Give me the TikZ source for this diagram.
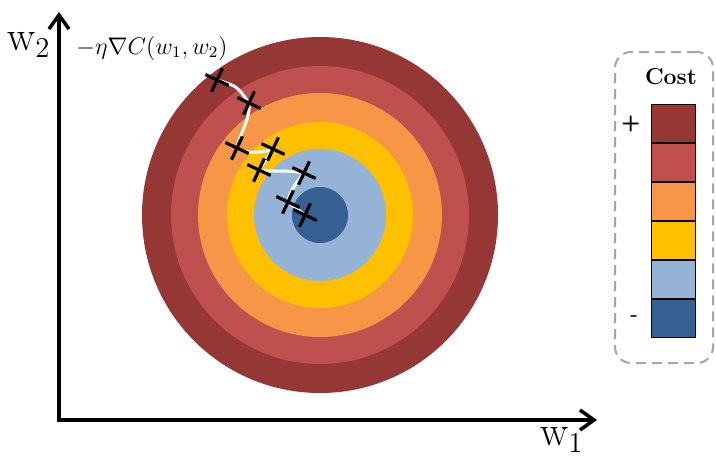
\documentclass[tikz,border=0pt]{standalone}
\usepackage{amsmath,amssymb}
\usepackage{fontspec}
\usepackage{xcolor}
\usepackage{tikz}
\usetikzlibrary{arrows.meta,positioning,shapes.misc}
\definecolor{CostA}{RGB}{149,55,53}
\definecolor{CostB}{RGB}{192,80,77}
\definecolor{CostC}{RGB}{247,150,70}
\definecolor{CostD}{RGB}{255,192,0}
\definecolor{CostE}{RGB}{149,179,215}
\definecolor{CostF}{RGB}{54,96,146}
\tikzset{
  axisline/.style={{Straight Barb[length=7pt,width=10pt]}-{Straight Barb[length=7pt,width=10pt]},
                   line width=1.75pt,black,line join=miter},
  wlab/.style={font=\fontsize{21}{24}\selectfont,inner sep=0pt},
  stepmark/.style={cross out,draw=black,line width=1.6pt,minimum size=7.5pt,
                   inner sep=0pt,rotate=20},
  trail/.style={white,line width=1.5pt},
  swatch/.style={draw=black,line width=0.5pt,minimum width=22pt,minimum height=19pt,
                 inner sep=0pt},
  legendbox/.style={draw=black!35,dashed,dash pattern=on 5pt off 3pt,line width=1pt,
                    rounded corners=8pt,minimum width=49pt,minimum height=155.5pt},
  signlab/.style={font=\sffamily\bfseries\fontsize{11}{13}\selectfont,inner sep=0pt},
}

\begin{document}
\begin{tikzpicture}[x=0.5pt,y=-0.5pt,node distance=0pt]
  \useasboundingbox (0,0) rectangle (716,457);
  % cost contours
  \coordinate (ctr) at (320,215);
  \fill[CostA] (ctr) circle[radius=178];
  \fill[CostB] (ctr) circle[radius=149];
  \fill[CostC] (ctr) circle[radius=122];
  \fill[CostD] (ctr) circle[radius=93];
  \fill[CostE] (ctr) circle[radius=66];
  \fill[CostF] (ctr) circle[radius=28];

  % axes
  \coordinate (orig) at (59,420);
  \coordinate (ytip) at (59,12);
  \coordinate (xtip) at (597,420);
  \draw[axisline] (ytip) -- (orig) -- (xtip);
  \node[wlab] (w2) at (29,45) {w$_2$};
  \node[wlab] (w1) at (562,440) {w$_1$};
  \node[font=\fontsize{11.5}{13}\selectfont] (grad) at (152,48) {$-\eta\nabla C(w_1,w_2)$};

  % descent steps
  \coordinate (p1) at (217,80);
  \coordinate (p2) at (249,103);
  \coordinate (p3) at (237,148);
  \coordinate (p4) at (273,149);
  \coordinate (p5) at (259,170);
  \coordinate (p6) at (304,173);
  \coordinate (p7) at (288,202);
  \coordinate (p8) at (305,215);
  \draw[trail] (p1) .. controls (237,86) .. (p2)
               .. controls (251,118) and (239,135) .. (p3)
               .. controls (245,154) and (263,153) .. (p4)
               -- (p5)
               .. controls (276,172) and (291,170) .. (p6)
               .. controls (296,183) and (289,192) .. (p7)
               -- (p8);
  \node[stepmark] (s1) at (p1) {};
  \node[stepmark] (s2) at (p2) {};
  \node[stepmark] (s3) at (p3) {};
  \node[stepmark] (s4) at (p4) {};
  \node[stepmark] (s5) at (p5) {};
  \node[stepmark] (s6) at (p6) {};
  \node[stepmark] (s7) at (p7) {};
  \node[stepmark] (s8) at (p8) {};

  % legend
  \node[legendbox] (leg) at (664,207.5) {};
  \node[swatch,fill=CostA] (c1) at (673,123.5) {};
  \node[swatch,fill=CostB,below=of c1] (c2) {};
  \node[swatch,fill=CostC,below=of c2] (c3) {};
  \node[swatch,fill=CostD,below=of c3] (c4) {};
  \node[swatch,fill=CostE,below=of c4] (c5) {};
  \node[swatch,fill=CostF,below=of c5] (c6) {};
  \node[font=\bfseries\fontsize{11.5}{13}\selectfont,above=6pt of c1,xshift=-1pt] (cost) {Cost};
  \node[signlab,left=5pt of c1] (plus) {+};
  \node[signlab,left=6pt of c6] (minus) {-};
\end{tikzpicture}
\end{document}
